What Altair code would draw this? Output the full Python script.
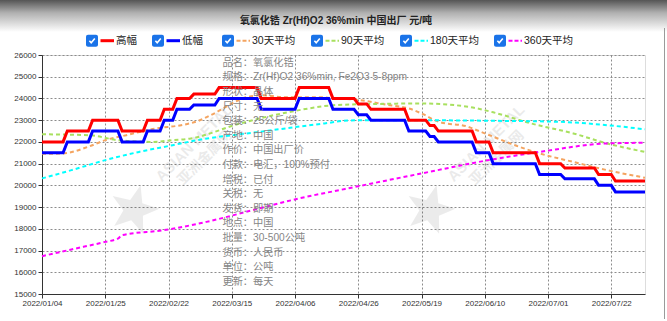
import math
import altair as alt
import pandas as pd

# ---------------- data ----------------
X_TICK_LABELS = ["2022/01/04", "2022/01/25", "2022/02/22", "2022/03/15", "2022/04/06",
                 "2022/04/26", "2022/05/19", "2022/06/10", "2022/07/01", "2022/07/22"]
TICK_STEP = 15
LAST_DAY = 143

# step series: index where each price level starts
STEP_STARTS = [0, 6, 12, 19, 25, 29, 32, 36, 42, 52, 61, 69, 75, 78, 87, 92, 94, 103, 107, 118, 124, 132, 136]
HIGH_LEVELS = [22000, 22500, 23000, 22500, 23000, 23500, 24000, 24200, 24500, 24000, 24500, 24000,
               23750, 23500, 23000, 22750, 22500, 22000, 21500, 21000, 20800, 20500, 20200]
LOW_LEVELS = [21500, 22000, 22500, 22000, 22500, 23000, 23500, 23700, 24000, 23500, 24000, 23500,
              23250, 23000, 22500, 22250, 22000, 21500, 21000, 20500, 20300, 20000, 19700]

MA30_X = [0, 5, 11, 15, 20, 27, 33, 37, 40, 49, 52, 58, 65, 70, 75, 82, 87, 90, 94, 101, 104, 107, 111, 118, 126, 134, 143]
MA30_Y = [21450, 21470, 21780, 22080, 22310, 22620, 22770, 22960, 23230, 24080, 24150, 24050, 24060, 24000,
          23930, 23700, 23540, 23310, 22930, 22700, 22470, 22240, 21930, 21470, 21080, 20700, 20350]
MA90_X = [0, 11, 18, 26, 31, 35, 47, 59, 70, 78, 90, 101, 108, 116, 126, 134, 143]
MA90_Y = [22350, 22310, 22080, 22000, 22080, 22150, 22850, 23390, 23700, 23740, 23770, 23620, 23310,
          22850, 22390, 21930, 21540]
MA180_X = [0, 7, 15, 23, 31, 36, 51, 67, 73, 86, 108, 122, 134, 143]
MA180_Y = [20320, 20700, 21160, 21540, 21850, 22050, 22450, 22850, 22990, 23000, 22970, 22930, 22770, 22580]
MA360_X = [0, 7, 15, 18, 19, 29, 39, 50, 61, 71, 90, 107, 118, 134, 143]
MA360_Y = [16740, 17050, 17400, 17550, 17710, 17940, 18320, 18860, 19400, 19800, 20550, 21200, 21540, 21930, 21960]

SERIES_NAMES = ["高幅", "低幅", "30天平均", "90天平均", "180天平均", "360天平均"]
SERIES_COLORS = ["#FF0000", "#0000FF", "#F4A460", "#A8E05F", "#00FFFF", "#FF00FF"]

TITLE = "氧氯化锆 Zr(Hf)O2 36%min 中国出厂 元/吨"
INFO_LABELS = ["品名：", "规格：", "形状：", "尺寸：", "包装：", "产地：", "作价：", "付款：",
               "增税：", "关税：", "发货：", "地点：", "批量：", "货币：", "单位：", "更新："]
INFO_VALUES = ["氧氯化锆", "Zr(Hf)O2 36%min, Fe2O3 5-8ppm", "晶体", "无", "25公斤/袋", "中国", "中国出厂价",
               "电汇，100%预付", "已付", "无", "即期", "中国", "30-500公吨", "人民币", "公吨", "每天"]

# ---------------- layout constants ----------------
W, H = 603, 239
PAD = {"left": 42, "top": 55, "right": 22, "bottom": 27}
LEGEND_X = [86, 152, 222, 311, 400, 494]   # page x of each checkbox
LEGEND_Y = -14.3
FONT_CJK = "Noto Sans CJK SC"
FONT_MIX = "Liberation Sans, Noto Sans CJK SC, sans-serif"


def step_vertices(starts, levels, last):
    xs, ys = [], []
    for k, (s, v) in enumerate(zip(starts, levels)):
        e = starts[k + 1] - 1 if k + 1 < len(starts) else last
        xs += [s, e]
        ys += [v, v]
    return xs, ys


hx, hy = step_vertices(STEP_STARTS, HIGH_LEVELS, LAST_DAY)
lx, ly = step_vertices(STEP_STARTS, LOW_LEVELS, LAST_DAY)
solid_df = pd.concat([
    pd.DataFrame({"series": SERIES_NAMES[0], "i": hx, "v": hy}),
    pd.DataFrame({"series": SERIES_NAMES[1], "i": lx, "v": ly}),
])
dashed_df = pd.concat([
    pd.DataFrame({"series": SERIES_NAMES[2], "i": MA30_X, "v": MA30_Y}),
    pd.DataFrame({"series": SERIES_NAMES[3], "i": MA90_X, "v": MA90_Y}),
    pd.DataFrame({"series": SERIES_NAMES[4], "i": MA180_X, "v": MA180_Y}),
    pd.DataFrame({"series": SERIES_NAMES[5], "i": MA360_X, "v": MA360_Y}),
])

color_scale = alt.Scale(domain=SERIES_NAMES, range=SERIES_COLORS)
x_scale = alt.Scale(domain=[0, LAST_DAY], nice=False, zero=False)
y_scale = alt.Scale(domain=[15000, 26000], nice=False, zero=False)

label_arr = "[" + ",".join("'%s'" % s for s in X_TICK_LABELS) + "]"
axis_common = dict(grid=True, gridDash=[2, 2], gridColor="#8c8c8c", gridWidth=1,
                   domainColor="#333333", tickColor="#333333", tickSize=4,
                   labelFontSize=8, labelColor="#333333", labelFont="Liberation Sans",
                   labelOverlap=False, labelFlush=False, title=None)
x_axis = alt.Axis(values=[k * TICK_STEP for k in range(len(X_TICK_LABELS))],
                  labelExpr=label_arr + "[round(datum.value/%d)]" % TICK_STEP,
                  labelPadding=1, **axis_common)
y_axis = alt.Axis(values=list(range(15000, 26001, 1000)), format="d", labelPadding=2, **axis_common)

one = pd.DataFrame({"a": [0]})

# background gradient band at the top
bg = alt.Chart(one).mark_rect(
    color=alt.LinearGradient(gradient="linear",
                             stops=[alt.GradientStop(color="#555555", offset=0),
                                    alt.GradientStop(color="#b0b0b0", offset=0.4),
                                    alt.GradientStop(color="#ffffff", offset=1)],
                             x1=0, x2=0, y1=0, y2=1)
).encode(x=alt.value(-PAD["left"]), x2=alt.value(W + PAD["right"]),
         y=alt.value(-PAD["top"]), y2=alt.value(-PAD["top"] + 32))

# thin panel edge on the right
edge = alt.Chart(one).mark_rule(color="#9a9a9a", strokeWidth=1).encode(
    x=alt.value(W + PAD["right"] - 2.5), y=alt.value(-PAD["top"] + 28), y2=alt.value(H + PAD["bottom"] - 2))

# watermark
star_pts = []
for k in range(10):
    ang = -math.pi / 2 + k * math.pi / 5
    r = 1.0 if k % 2 == 0 else 0.42
    star_pts.append("%.3f,%.3f" % (r * math.cos(ang), r * math.sin(ang)))
STAR = "M" + " L".join(star_pts) + " Z"
wm_df = pd.DataFrame({"sx": [134 - 42, 430 - 42], "tx": [194 - 42, 486 - 42], "cx": [205 - 42, 497 - 42]})
wm_star = alt.Chart(wm_df).mark_point(shape=STAR, filled=True, color="#000000", opacity=0.08,
                                      size=2600, angle=15).encode(
    x=alt.X("sx:Q", scale=None), y=alt.value(210 - 55))
wm_text = alt.Chart(wm_df).mark_text(text="ASIAN METAL", angle=315, fontSize=15, fontWeight="bold",
                                     font="Liberation Sans", color="#000000", opacity=0.08).encode(
    x=alt.X("tx:Q", scale=None), y=alt.value(143 - 55))
wm_cn = alt.Chart(wm_df).mark_text(text="亚洲金属网", angle=315, fontSize=14, fontWeight="bold",
                                   font=FONT_CJK, color="#000000", opacity=0.08).encode(
    x=alt.X("cx:Q", scale=None), y=alt.value(158 - 55))

dashed = alt.Chart(dashed_df).mark_line(strokeWidth=2, strokeDash=[4, 3], interpolate="monotone").encode(
    x=alt.X("i:Q", scale=x_scale, axis=x_axis),
    y=alt.Y("v:Q", scale=y_scale, axis=y_axis),
    color=alt.Color("series:N", scale=color_scale, legend=None),
)
solid = alt.Chart(solid_df).mark_line(strokeWidth=3).encode(
    x=alt.X("i:Q", scale=x_scale, axis=x_axis),
    y=alt.Y("v:Q", scale=y_scale, axis=y_axis),
    color=alt.Color("series:N", scale=color_scale, legend=None),
)

info_kw = dict(align="left", baseline="top", lineBreak="\n", lineHeight=14.6, fontSize=10.2,
               font=FONT_MIX, color="#858585")
info_labels = alt.Chart(one).mark_text(**info_kw).encode(
    x=alt.value(222.5 - 42), y=alt.value(63.3 - 55 - 5.5), text=alt.value("\n".join(INFO_LABELS)))
info_values = alt.Chart(one).mark_text(**info_kw).encode(
    x=alt.value(253 - 42), y=alt.value(63.3 - 55 - 5.5), text=alt.value("\n".join(INFO_VALUES)))

title = alt.Chart(one).mark_text(align="center", baseline="middle", fontSize=10, fontWeight="bold",
                                 font=FONT_MIX, color="#222222").encode(
    x=alt.value(336 - 42), y=alt.value(20.7 - 55), text=alt.value(TITLE))

# custom legend (checkbox + line sample + label)
leg = pd.DataFrame({"name": SERIES_NAMES, "color": SERIES_COLORS,
                    "dashed": [False, False, True, True, True, True]})
leg["bx"] = [x - 42 for x in LEGEND_X]
leg["bx2"] = leg["bx"] + 12
leg["cx"] = leg["bx"] + 6
leg["lx"] = leg["bx"] + 14.5
leg["lx2"] = leg["bx"] + 28
leg["tx"] = leg["bx"] + 30

box = alt.Chart(leg).mark_rect(color="#1a73e8", cornerRadius=2).encode(
    x=alt.X("bx:Q", scale=None), x2="bx2:Q",
    y=alt.value(LEGEND_Y - 6), y2=alt.value(LEGEND_Y + 6))
check = alt.Chart(leg).mark_point(shape="M -0.65 0 L -0.2 0.5 L 0.7 -0.55", filled=False, color="white",
                                  strokeWidth=1.6, size=64, opacity=1).encode(
    x=alt.X("cx:Q", scale=None), y=alt.value(LEGEND_Y))
leg_solid = alt.Chart(leg[~leg["dashed"]]).mark_rule(strokeWidth=3).encode(
    x=alt.X("lx:Q", scale=None), x2="lx2:Q", y=alt.value(LEGEND_Y),
    color=alt.Color("color:N", scale=None))
leg_dash = alt.Chart(leg[leg["dashed"]]).mark_rule(strokeWidth=2, strokeDash=[4, 2]).encode(
    x=alt.X("lx:Q", scale=None), x2="lx2:Q", y=alt.value(LEGEND_Y),
    color=alt.Color("color:N", scale=None))
leg_text = alt.Chart(leg).mark_text(align="left", baseline="middle", fontSize=10.5, font=FONT_MIX,
                                    color="#222222").encode(
    x=alt.X("tx:Q", scale=None), y=alt.value(LEGEND_Y), text="name:N")

chart = alt.layer(
    bg, edge, wm_star, wm_text, wm_cn, dashed, solid, info_labels, info_values,
    title, box, check, leg_solid, leg_dash, leg_text
).properties(
    width=W, height=H,
    autosize=alt.AutoSizeParams(type="none"),
    padding=PAD,
).configure_view(stroke=None).configure(background="white")

chart.save("out.html", embed_options={"renderer": "svg", "actions": False})
